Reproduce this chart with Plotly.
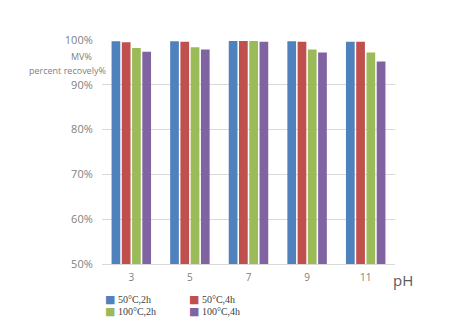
import plotly.graph_objects as go

categories = ["3", "5", "7", "9", "11"]
series_names = ["50°C,2h", "50°C,4h", "100°C,2h", "100°C,4h"]
series_colors = ["#4F81BD", "#C0504D", "#9BBB59", "#8064A2"]
v_50_2h = [99.7, 99.7, 99.8, 99.7, 99.6]
v_50_4h = [99.5, 99.6, 99.8, 99.6, 99.6]
v_100_2h = [98.2, 98.4, 99.8, 97.9, 97.2]
v_100_4h = [97.4, 97.9, 99.6, 97.2, 95.2]
series_values = [v_50_2h, v_50_4h, v_100_2h, v_100_4h]
y_ticks = [50, 60, 70, 80, 90, 100]
y_tick_labels = [f"{t}%" for t in y_ticks]

fig = go.Figure()
for name, color, vals in zip(series_names, series_colors, series_values):
    fig.add_trace(go.Bar(
        x=categories, y=vals, name=name,
        marker=dict(color=color, line=dict(width=0)),
        showlegend=False,
    ))

W, H = 465, 328
L, R, T, B = 102, 70, 40, 64
pw = W - L - R
ph = H - T - B

def px_x(p):
    return (p - L) / pw

def px_y(p):
    return (H - B - p) / ph

annotations = [
    dict(text="MV%", xref="paper", yref="paper", x=px_x(94), y=px_y(57),
         xanchor="right", yanchor="middle", showarrow=False,
         font=dict(size=9, color="#7F7F7F")),
    dict(text="percent recovely%", xref="paper", yref="paper", x=px_x(108), y=px_y(70.5),
         xanchor="right", yanchor="middle", showarrow=False,
         font=dict(size=9, color="#7F7F7F")),
    dict(text="pH", xref="paper", yref="paper", x=px_x(391), y=px_y(280),
         xanchor="left", yanchor="middle", showarrow=False,
         font=dict(size=15, color="#595959")),
]

# legend drawn as text entries in two columns
legend_cols = [104, 188]
legend_rows = [299.5, 311.5]
for i, (name, color) in enumerate(zip(series_names, series_colors)):
    annotations.append(dict(
        text=(f'<span style="color:{color};font-family:DejaVu Sans;font-size:11px">■</span> '
              f'{name}'),
        xref="paper", yref="paper",
        x=px_x(legend_cols[i % 2]), y=px_y(legend_rows[i // 2]),
        xanchor="left", yanchor="middle", showarrow=False, borderpad=0,
        font=dict(family="Liberation Serif", size=10, color="#404040"),
    ))

fig.update_layout(
    width=W, height=H,
    margin=dict(l=L, r=R, t=T, b=B, autoexpand=False),
    paper_bgcolor="white", plot_bgcolor="white",
    barmode="group", bargap=0.3, bargroupgap=0.15,
    font=dict(family="Open Sans", size=10, color="#7F7F7F"),
    showlegend=False,
    xaxis=dict(
        type="category", showgrid=False, showline=True,
        linecolor="#D9D9D9", linewidth=1,
        ticks="outside", ticklen=4, tickcolor="rgba(0,0,0,0)",
        tickfont=dict(size=10, color="#7F7F7F"),
    ),
    yaxis=dict(
        range=[50, 100], tickmode="array", tickvals=y_ticks, ticktext=y_tick_labels,
        showgrid=True, gridcolor="#D9D9D9", gridwidth=1,
        zeroline=False, showline=False,
        ticks="outside", ticklen=6, tickcolor="rgba(0,0,0,0)",
        tickfont=dict(size=11, color="#7F7F7F"),
    ),
    annotations=annotations,
)

fig.write_html("out.html")
